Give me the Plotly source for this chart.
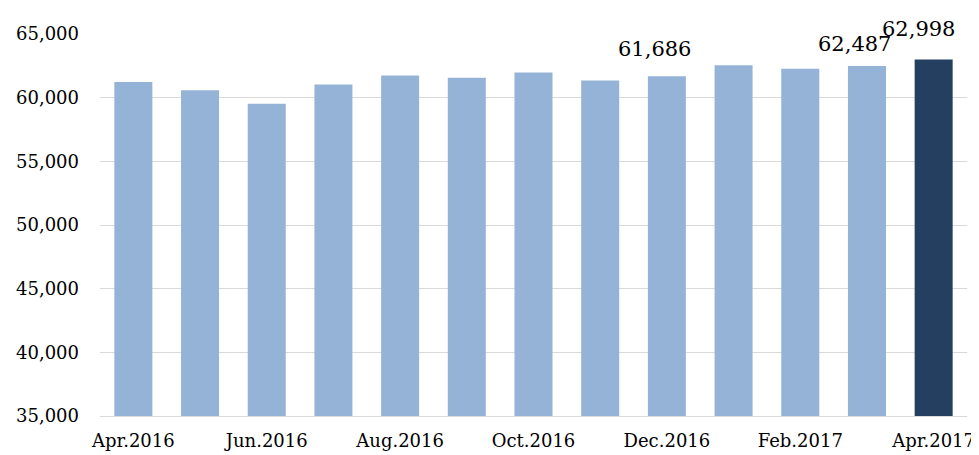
import plotly.graph_objects as go

months = ["Apr.2016", "May.2016", "Jun.2016", "Jul.2016", "Aug.2016", "Sep.2016",
          "Oct.2016", "Nov.2016", "Dec.2016", "Jan.2017", "Feb.2017", "Mar.2017", "Apr.2017"]
values = [61240, 60580, 59530, 61030, 61740, 61560, 61980, 61340, 61686, 62550, 62270, 62487, 62998]
tick_labels = ["Apr.2016", "Jun.2016", "Aug.2016", "Oct.2016", "Dec.2016", "Feb.2017", "Apr.2017"]
labeled = ["Dec.2016", "Mar.2017", "Apr.2017"]
label_yshift = [13, 8, 16]
label_xshift = [-12, -12, -15]

light = "#95B3D7"
dark = "#243F60"
colors = [dark if m == months[-1] else light for m in months]

fig = go.Figure(go.Bar(x=months, y=values, marker=dict(color=colors, line=dict(width=0)),
                       hoverinfo="skip"))

for m, ys, xs in zip(labeled, label_yshift, label_xshift):
    v = values[months.index(m)]
    fig.add_annotation(x=m, y=v, text=f"{v:,}", showarrow=False, yanchor="bottom",
                       xshift=xs, yshift=ys,
                       font=dict(family="DejaVu Serif", size=21, color="#000000"))

fig.update_layout(
    width=971, height=447,
    margin=dict(l=92, r=4, t=26, b=32),
    paper_bgcolor="white", plot_bgcolor="white",
    bargap=0.43, showlegend=False,
    font=dict(family="DejaVu Serif", size=18, color="#000000"),
)
fig.update_xaxes(tickmode="array", tickvals=tick_labels, ticktext=tick_labels,
                 showline=True, linecolor="#D9D9D9", linewidth=1, ticks="",
                 ticklabelstandoff=8, tickfont=dict(size=18))
fig.update_yaxes(range=[35000, 65000], dtick=5000, tickformat=",", showgrid=True,
                 gridcolor="#D9D9D9", gridwidth=1, zeroline=False, ticks="",
                 ticklabelstandoff=20, tickfont=dict(size=18))

fig.write_html("out.html")
